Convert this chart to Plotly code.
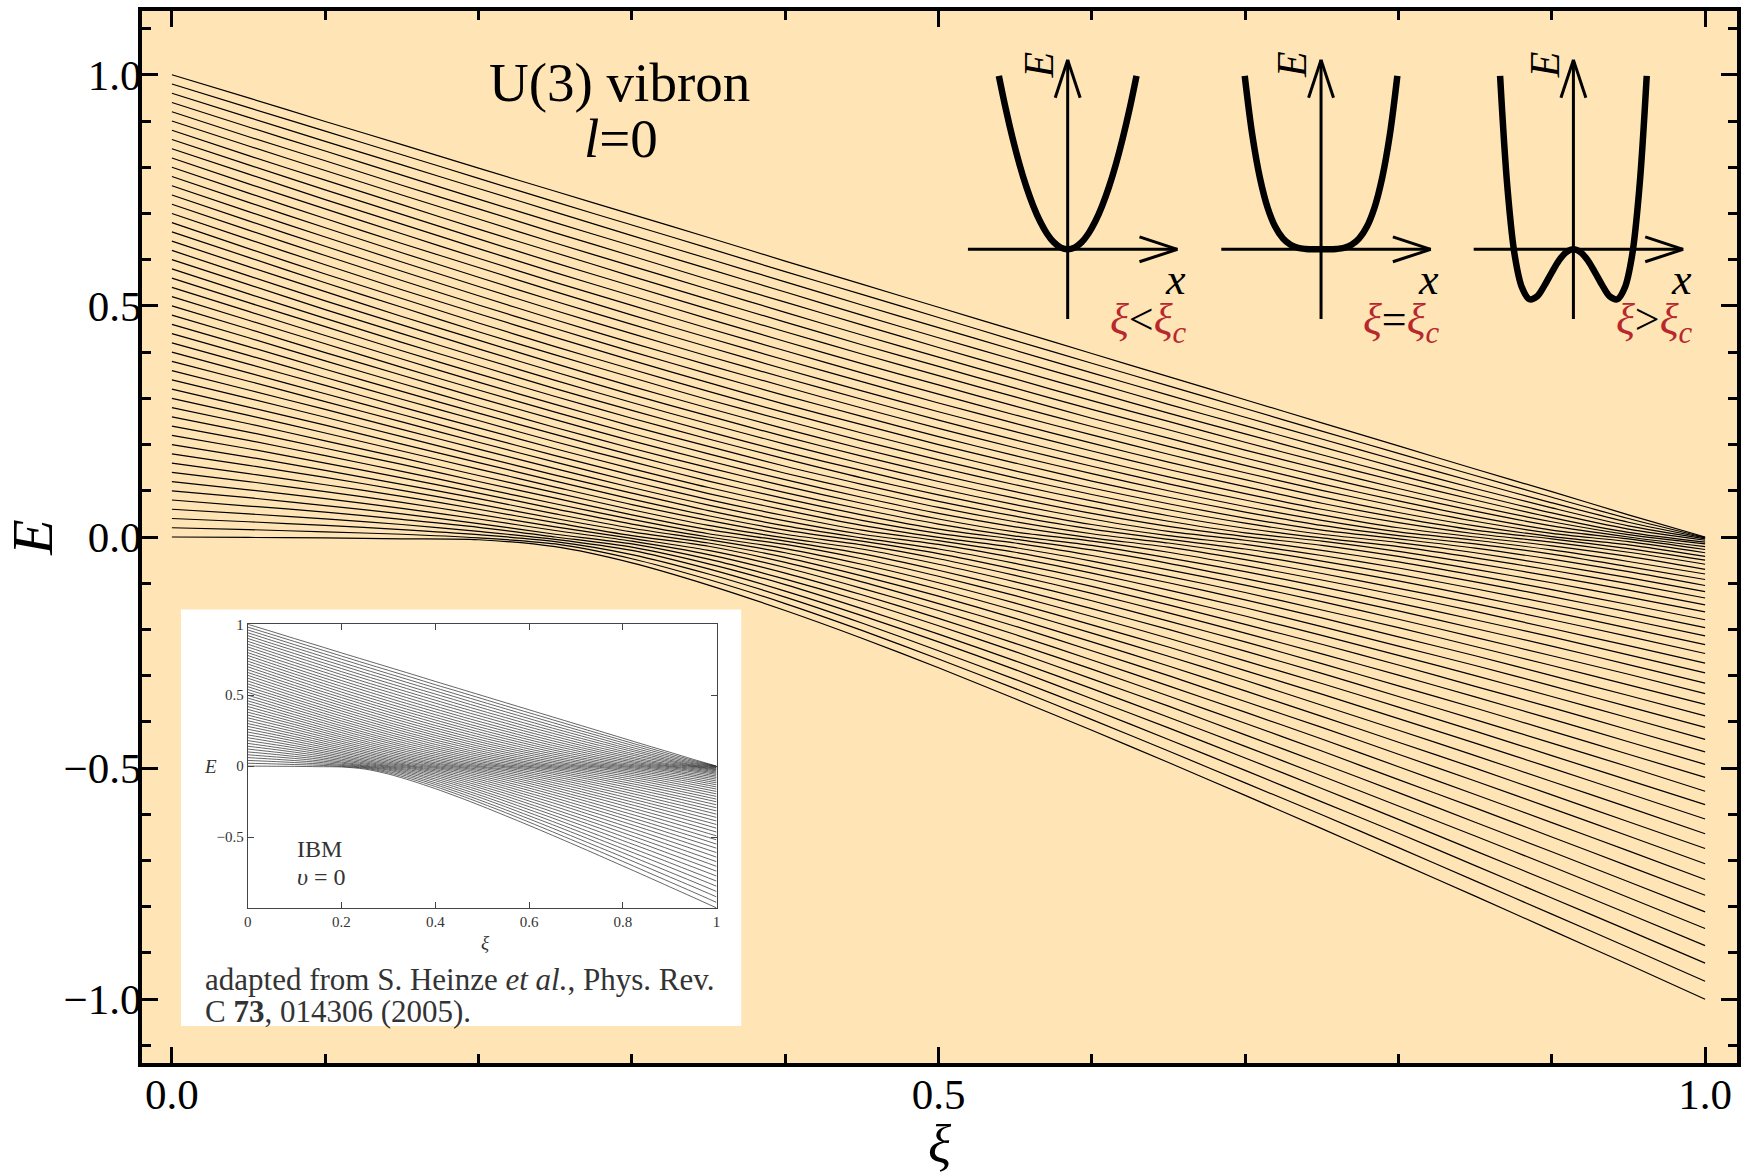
import plotly.graph_objects as go

# ---------------- data: energy levels E(xi), l=0 ----------------
xi_grid = [0.00, 0.05, 0.10, 0.15, 0.20, 0.25, 0.30, 0.35, 0.40, 0.45, 0.50,
           0.55, 0.60, 0.65, 0.70, 0.75, 0.80, 0.85, 0.90, 0.95, 1.00]

E_00 = [0.000, -0.001, -0.002, -0.004, -0.006, -0.021, -0.056, -0.104, -0.159, -0.219, -0.283, -0.350, -0.418, -0.488, -0.559, -0.631, -0.704, -0.777, -0.851, -0.925, -1.000]
E_01 = [0.020, 0.016, 0.011, 0.006, -0.002, -0.015, -0.047, -0.092, -0.144, -0.202, -0.264, -0.328, -0.395, -0.463, -0.532, -0.601, -0.672, -0.744, -0.816, -0.888, -0.961]
E_02 = [0.040, 0.033, 0.025, 0.016, 0.005, -0.010, -0.038, -0.080, -0.130, -0.186, -0.246, -0.308, -0.372, -0.438, -0.505, -0.573, -0.641, -0.711, -0.781, -0.851, -0.922]
E_03 = [0.060, 0.050, 0.039, 0.027, 0.012, -0.005, -0.029, -0.069, -0.117, -0.170, -0.227, -0.287, -0.350, -0.413, -0.478, -0.544, -0.611, -0.679, -0.747, -0.815, -0.884]
E_04 = [0.080, 0.067, 0.054, 0.038, 0.021, 0.000, -0.022, -0.058, -0.103, -0.155, -0.210, -0.268, -0.328, -0.390, -0.453, -0.517, -0.582, -0.647, -0.713, -0.780, -0.847]
E_05 = [0.100, 0.085, 0.068, 0.050, 0.029, 0.006, -0.015, -0.048, -0.091, -0.139, -0.192, -0.248, -0.307, -0.366, -0.428, -0.490, -0.553, -0.617, -0.681, -0.746, -0.811]
E_06 = [0.120, 0.102, 0.083, 0.062, 0.039, 0.014, -0.009, -0.038, -0.078, -0.125, -0.176, -0.230, -0.286, -0.344, -0.403, -0.463, -0.525, -0.586, -0.649, -0.712, -0.775]
E_07 = [0.140, 0.120, 0.098, 0.075, 0.049, 0.022, -0.003, -0.029, -0.066, -0.111, -0.159, -0.211, -0.266, -0.322, -0.379, -0.437, -0.497, -0.557, -0.618, -0.679, -0.741]
E_08 = [0.160, 0.137, 0.113, 0.088, 0.060, 0.031, 0.003, -0.020, -0.055, -0.097, -0.144, -0.193, -0.246, -0.300, -0.356, -0.412, -0.470, -0.528, -0.587, -0.647, -0.707]
E_09 = [0.180, 0.155, 0.129, 0.101, 0.071, 0.040, 0.011, -0.013, -0.044, -0.084, -0.128, -0.176, -0.227, -0.279, -0.333, -0.388, -0.444, -0.500, -0.558, -0.616, -0.674]
E_10 = [0.200, 0.173, 0.144, 0.114, 0.083, 0.050, 0.019, -0.006, -0.034, -0.071, -0.113, -0.159, -0.208, -0.258, -0.310, -0.364, -0.418, -0.473, -0.529, -0.585, -0.642]
E_11 = [0.220, 0.191, 0.160, 0.128, 0.095, 0.061, 0.028, 0.000, -0.025, -0.059, -0.099, -0.143, -0.190, -0.238, -0.289, -0.340, -0.393, -0.446, -0.500, -0.555, -0.610]
E_12 = [0.240, 0.209, 0.176, 0.142, 0.107, 0.072, 0.038, 0.007, -0.016, -0.047, -0.085, -0.127, -0.172, -0.219, -0.268, -0.317, -0.368, -0.420, -0.473, -0.526, -0.579]
E_13 = [0.260, 0.227, 0.192, 0.157, 0.120, 0.084, 0.048, 0.016, -0.009, -0.036, -0.072, -0.112, -0.155, -0.200, -0.247, -0.295, -0.345, -0.395, -0.446, -0.497, -0.550]
E_14 = [0.280, 0.245, 0.208, 0.171, 0.133, 0.096, 0.059, 0.025, -0.002, -0.026, -0.059, -0.097, -0.138, -0.182, -0.227, -0.274, -0.322, -0.370, -0.420, -0.470, -0.520]
E_15 = [0.300, 0.263, 0.225, 0.186, 0.147, 0.108, 0.070, 0.036, 0.006, -0.017, -0.047, -0.083, -0.122, -0.164, -0.208, -0.253, -0.299, -0.346, -0.394, -0.443, -0.492]
E_16 = [0.320, 0.281, 0.242, 0.201, 0.161, 0.121, 0.082, 0.046, 0.015, -0.009, -0.036, -0.070, -0.107, -0.147, -0.189, -0.232, -0.277, -0.323, -0.369, -0.417, -0.465]
E_17 = [0.340, 0.300, 0.259, 0.217, 0.175, 0.134, 0.095, 0.057, 0.024, -0.002, -0.026, -0.057, -0.092, -0.131, -0.171, -0.213, -0.256, -0.300, -0.345, -0.391, -0.438]
E_18 = [0.360, 0.318, 0.276, 0.233, 0.190, 0.148, 0.107, 0.069, 0.035, 0.006, -0.016, -0.045, -0.078, -0.115, -0.153, -0.194, -0.236, -0.278, -0.322, -0.367, -0.412]
E_19 = [0.380, 0.337, 0.293, 0.249, 0.205, 0.162, 0.120, 0.081, 0.046, 0.015, -0.008, -0.033, -0.065, -0.099, -0.136, -0.175, -0.216, -0.257, -0.300, -0.343, -0.387]
E_20 = [0.400, 0.355, 0.310, 0.265, 0.220, 0.176, 0.134, 0.094, 0.058, 0.025, -0.001, -0.023, -0.052, -0.085, -0.120, -0.158, -0.196, -0.237, -0.278, -0.320, -0.362]
E_21 = [0.420, 0.374, 0.328, 0.281, 0.236, 0.191, 0.148, 0.107, 0.070, 0.036, 0.008, -0.013, -0.040, -0.071, -0.104, -0.140, -0.178, -0.217, -0.257, -0.297, -0.339]
E_22 = [0.440, 0.393, 0.345, 0.298, 0.252, 0.206, 0.163, 0.121, 0.083, 0.048, 0.017, -0.005, -0.028, -0.057, -0.090, -0.124, -0.160, -0.198, -0.236, -0.276, -0.316]
E_23 = [0.460, 0.412, 0.363, 0.315, 0.268, 0.222, 0.177, 0.135, 0.096, 0.060, 0.028, 0.002, -0.018, -0.045, -0.075, -0.108, -0.143, -0.179, -0.216, -0.255, -0.294]
E_24 = [0.480, 0.431, 0.381, 0.332, 0.284, 0.237, 0.192, 0.150, 0.110, 0.073, 0.039, 0.011, -0.009, -0.033, -0.062, -0.093, -0.126, -0.161, -0.198, -0.235, -0.273]
E_25 = [0.500, 0.450, 0.399, 0.350, 0.301, 0.254, 0.208, 0.165, 0.124, 0.086, 0.051, 0.022, -0.002, -0.022, -0.049, -0.079, -0.111, -0.144, -0.179, -0.215, -0.252]
E_26 = [0.520, 0.469, 0.418, 0.367, 0.318, 0.270, 0.224, 0.180, 0.138, 0.100, 0.064, 0.033, 0.007, -0.013, -0.037, -0.065, -0.095, -0.128, -0.162, -0.197, -0.233]
E_27 = [0.540, 0.488, 0.436, 0.385, 0.335, 0.287, 0.240, 0.196, 0.153, 0.114, 0.077, 0.045, 0.017, -0.005, -0.026, -0.052, -0.081, -0.112, -0.145, -0.179, -0.214]
E_28 = [0.560, 0.507, 0.455, 0.403, 0.353, 0.304, 0.257, 0.212, 0.169, 0.128, 0.091, 0.057, 0.027, 0.003, -0.016, -0.040, -0.067, -0.097, -0.129, -0.162, -0.196]
E_29 = [0.580, 0.526, 0.473, 0.421, 0.371, 0.321, 0.274, 0.228, 0.184, 0.144, 0.105, 0.070, 0.039, 0.012, -0.007, -0.029, -0.054, -0.083, -0.114, -0.146, -0.179]
E_30 = [0.600, 0.546, 0.492, 0.440, 0.389, 0.339, 0.291, 0.245, 0.201, 0.159, 0.120, 0.084, 0.051, 0.023, 0.001, -0.018, -0.042, -0.070, -0.099, -0.130, -0.162]
E_31 = [0.620, 0.565, 0.511, 0.459, 0.407, 0.357, 0.308, 0.262, 0.217, 0.175, 0.135, 0.098, 0.064, 0.034, 0.009, -0.009, -0.031, -0.057, -0.085, -0.115, -0.147]
E_32 = [0.640, 0.585, 0.531, 0.477, 0.426, 0.375, 0.326, 0.279, 0.234, 0.191, 0.151, 0.113, 0.078, 0.046, 0.019, -0.002, -0.021, -0.045, -0.072, -0.101, -0.132]
E_33 = [0.660, 0.605, 0.550, 0.497, 0.444, 0.394, 0.345, 0.297, 0.252, 0.208, 0.167, 0.128, 0.092, 0.059, 0.030, 0.006, -0.012, -0.034, -0.060, -0.088, -0.118]
E_34 = [0.680, 0.624, 0.569, 0.516, 0.463, 0.412, 0.363, 0.315, 0.269, 0.225, 0.183, 0.143, 0.106, 0.072, 0.041, 0.015, -0.004, -0.024, -0.048, -0.075, -0.105]
E_35 = [0.700, 0.644, 0.589, 0.535, 0.483, 0.432, 0.382, 0.334, 0.287, 0.243, 0.200, 0.160, 0.121, 0.086, 0.054, 0.025, 0.003, -0.015, -0.037, -0.064, -0.092]
E_36 = [0.720, 0.664, 0.609, 0.555, 0.502, 0.451, 0.401, 0.353, 0.306, 0.261, 0.217, 0.176, 0.137, 0.100, 0.066, 0.036, 0.011, -0.007, -0.028, -0.053, -0.080]
E_37 = [0.740, 0.684, 0.629, 0.575, 0.522, 0.470, 0.420, 0.372, 0.325, 0.279, 0.235, 0.193, 0.153, 0.115, 0.080, 0.048, 0.020, 0.000, -0.019, -0.042, -0.070]
E_38 = [0.760, 0.704, 0.649, 0.595, 0.542, 0.490, 0.440, 0.391, 0.344, 0.298, 0.253, 0.210, 0.169, 0.130, 0.094, 0.060, 0.031, 0.007, -0.011, -0.033, -0.059]
E_39 = [0.780, 0.724, 0.669, 0.615, 0.562, 0.510, 0.460, 0.411, 0.363, 0.316, 0.271, 0.228, 0.186, 0.146, 0.109, 0.073, 0.042, 0.015, -0.004, -0.025, -0.050]
E_40 = [0.800, 0.744, 0.689, 0.635, 0.583, 0.531, 0.480, 0.431, 0.383, 0.336, 0.290, 0.246, 0.203, 0.162, 0.124, 0.087, 0.053, 0.024, 0.001, -0.017, -0.042]
E_41 = [0.820, 0.764, 0.710, 0.656, 0.603, 0.551, 0.501, 0.451, 0.403, 0.355, 0.309, 0.264, 0.221, 0.179, 0.139, 0.101, 0.066, 0.034, 0.008, -0.010, -0.034]
E_42 = [0.840, 0.785, 0.730, 0.677, 0.624, 0.572, 0.522, 0.472, 0.423, 0.375, 0.329, 0.283, 0.239, 0.196, 0.155, 0.115, 0.078, 0.044, 0.015, -0.004, -0.027]
E_43 = [0.860, 0.805, 0.751, 0.698, 0.645, 0.593, 0.543, 0.493, 0.444, 0.396, 0.349, 0.303, 0.257, 0.214, 0.171, 0.130, 0.092, 0.056, 0.024, 0.000, -0.021]
E_44 = [0.880, 0.825, 0.772, 0.719, 0.666, 0.615, 0.564, 0.514, 0.465, 0.416, 0.369, 0.322, 0.276, 0.232, 0.188, 0.146, 0.105, 0.067, 0.033, 0.005, -0.015]
E_45 = [0.900, 0.846, 0.793, 0.740, 0.688, 0.636, 0.586, 0.536, 0.486, 0.437, 0.389, 0.342, 0.295, 0.250, 0.205, 0.162, 0.120, 0.080, 0.042, 0.010, -0.011]
E_46 = [0.920, 0.866, 0.814, 0.761, 0.710, 0.658, 0.608, 0.557, 0.508, 0.459, 0.410, 0.362, 0.315, 0.268, 0.223, 0.178, 0.134, 0.092, 0.052, 0.017, -0.007]
E_47 = [0.940, 0.887, 0.835, 0.783, 0.731, 0.680, 0.630, 0.580, 0.530, 0.480, 0.431, 0.383, 0.335, 0.287, 0.241, 0.195, 0.149, 0.105, 0.063, 0.024, -0.004]
E_48 = [0.960, 0.908, 0.856, 0.805, 0.754, 0.703, 0.652, 0.602, 0.552, 0.502, 0.453, 0.404, 0.355, 0.307, 0.259, 0.212, 0.165, 0.119, 0.074, 0.032, -0.002]
E_49 = [0.980, 0.929, 0.878, 0.827, 0.776, 0.725, 0.675, 0.625, 0.574, 0.525, 0.475, 0.425, 0.376, 0.327, 0.278, 0.229, 0.181, 0.133, 0.086, 0.040, -0.001]
E_50 = [1.000, 0.950, 0.899, 0.849, 0.798, 0.748, 0.698, 0.648, 0.597, 0.547, 0.497, 0.447, 0.397, 0.347, 0.297, 0.247, 0.197, 0.147, 0.098, 0.048, 0.000]

levels = [E_00, E_01, E_02, E_03, E_04, E_05, E_06, E_07, E_08, E_09,
          E_10, E_11, E_12, E_13, E_14, E_15, E_16, E_17, E_18, E_19,
          E_20, E_21, E_22, E_23, E_24, E_25, E_26, E_27, E_28, E_29,
          E_30, E_31, E_32, E_33, E_34, E_35, E_36, E_37, E_38, E_39,
          E_40, E_41, E_42, E_43, E_44, E_45, E_46, E_47, E_48, E_49, E_50]

# schematic potentials V(x) for the three sketches
pot_x = [-1.0, -0.9, -0.8, -0.7, -0.6, -0.5, -0.4, -0.3, -0.2, -0.1, 0.0,
         0.1, 0.2, 0.3, 0.4, 0.5, 0.6, 0.7, 0.8, 0.9, 1.0]
pot_below = [1.0, 0.81, 0.64, 0.49, 0.36, 0.25, 0.16, 0.09, 0.04, 0.01, 0.0,
             0.01, 0.04, 0.09, 0.16, 0.25, 0.36, 0.49, 0.64, 0.81, 1.0]
pot_critical = [1.0, 0.656, 0.410, 0.240, 0.130, 0.063, 0.026, 0.008, 0.002, 0.000, 0.0,
                0.000, 0.002, 0.008, 0.026, 0.063, 0.130, 0.240, 0.410, 0.656, 1.0]
pot_above = [1.0, 0.356, -0.036, -0.222, -0.288, -0.273, -0.212, -0.137, -0.066, -0.017, 0.0,
             -0.017, -0.066, -0.137, -0.212, -0.273, -0.288, -0.222, -0.036, 0.356, 1.0]

# inset (adapted IBM figure) tick labels
inset_xticks = [0, 0.2, 0.4, 0.6, 0.8, 1]
inset_xlabels = ["0", "0.2", "0.4", "0.6", "0.8", "1"]
inset_yticks = [-0.5, 0, 0.5, 1]
inset_ylabels = ["\u22120.5", "0", "0.5", "1"]

# ---------------- geometry helpers (pixel -> paper) ----------------
W, H = 1744, 1175
PL, PR, PT, PB = 142.0, 1741.0, 8.0, 1063.0
PW, PH = PR - PL, PB - PT


def fx(X):
    return (X - PL) / PW


def fy(Y):
    return (PB - Y) / PH


SERIF = "Liberation Serif, Times New Roman, serif"
RED = "#B7282E"
BG = "#FFE4B5"


def note(X, Y, text, size, color="black", **kw):
    d = dict(x=fx(X), y=fy(Y), xref="paper", yref="paper", text=text, showarrow=False,
             xanchor="center", yanchor="middle",
             font=dict(family=SERIF, size=size, color=color))
    d.update(kw)
    return d


fig = go.Figure()

# main level lines
for lv in levels:
    fig.add_trace(go.Scatter(x=xi_grid, y=lv, mode="lines",
                             line=dict(color="black", width=1.2, shape="spline", smoothing=0.8),
                             hoverinfo="skip", showlegend=False))

# white background box of the inset (own subplot, drawn above main lines)
fig.add_trace(go.Scatter(x=[0, 1, 1, 0, 0], y=[0, 0, 1, 1, 0], mode="lines", fill="toself",
                         fillcolor="white", line=dict(width=0, color="white"),
                         xaxis="x2", yaxis="y2", hoverinfo="skip", showlegend=False))

# inset spectrum
for lv in levels:
    fig.add_trace(go.Scatter(x=xi_grid, y=lv, mode="lines",
                             line=dict(color="#222222", width=0.7, shape="spline", smoothing=0.8),
                             xaxis="x3", yaxis="y3", hoverinfo="skip", showlegend=False))

# potential sketches
panels = [
    (1070.0, 69.0, pot_below, "&lt;"),
    (1324.0, 76.5, pot_critical, "="),
    (1577.0, 73.5, pot_above, "&gt;"),
]
OY, SY = 247.0, 174.0
XR, YR = [-1.5, 1.5], [-0.5, 1.1]
layout_axes = {}
shapes = [dict(type="rect", xref="paper", yref="paper", x0=0, x1=1, y0=0, y1=1,
               fillcolor=BG, line=dict(width=0), layer="below")]
annotations = []
for i, (ox, sx, pot, op) in enumerate(panels):
    n = 4 + i
    layout_axes[f"xaxis{n}"] = dict(domain=[fx(ox + XR[0] * sx), fx(ox + XR[1] * sx)], range=XR,
                                    visible=False, anchor=f"y{n}", fixedrange=True)
    layout_axes[f"yaxis{n}"] = dict(domain=[fy(OY - YR[0] * SY), fy(OY - YR[1] * SY)], range=YR,
                                    visible=False, anchor=f"x{n}", fixedrange=True)
    fig.add_trace(go.Scatter(x=pot_x, y=pot, mode="lines",
                             line=dict(color="black", width=6.5, shape="spline"),
                             xaxis=f"x{n}", yaxis=f"y{n}", hoverinfo="skip", showlegend=False))
    # axes with open arrow heads (decoration, in paper coords)
    segs = [
        ((ox - 100, OY), (ox + 110, OY)),
        ((ox + 110, OY), (ox + 72, OY - 12.5)),
        ((ox + 110, OY), (ox + 72, OY + 12.5)),
        ((ox, 317), (ox, 57)),
        ((ox, 57), (ox - 12.5, 95)),
        ((ox, 57), (ox + 12.5, 95)),
    ]
    for (a, b) in segs:
        shapes.append(dict(type="line", xref="paper", yref="paper",
                           x0=fx(a[0]), y0=fy(a[1]), x1=fx(b[0]), y1=fy(b[1]),
                           line=dict(color="black", width=3), layer="above"))
    annotations.append(note(ox - 29, 62, "<i>E</i>", 42, textangle=-90))
    annotations.append(note(ox + 108, 277, "<i>x</i>", 44))
    annotations.append(note(ox + 81, 320,
                            (f"<span style='color:{RED}'><i>ξ</i></span>{op}"
                             f"<span style='color:{RED}'><i>ξ</i><sub><i>c</i></sub></span>"), 44))

# title text
annotations.append(note(621, 80, "U(3) vibron", 55))
annotations.append(note(622, 136, "<i>l</i>=0", 55))

# inset texts
annotations += [
    note(320, 848, "IBM", 24, "#333333"),
    note(322, 876, "<i>υ</i> = 0", 24, "#333333"),
    note(211, 766, "<i>E</i>", 19, "#333333"),
    note(486, 942, "<i>ξ</i>", 19, "#333333"),
    note(203, 979, "adapted from S. Heinze <i>et al.</i>, Phys. Rev.", 31, "#333333", xanchor="left"),
    note(203, 1011, "C <b>73</b>, 014306 (2005).", 31, "#333333", xanchor="left"),
]

main_axis = dict(showline=True, linewidth=4, linecolor="black", mirror="allticks",
                 ticks="inside", ticklen=16, tickwidth=3, tickcolor="black",
                 tick0=0, dtick=0.5, tickformat=".1f",
                 minor=dict(ticks="inside", ticklen=9, tickwidth=2.5, tickcolor="black",
                            tick0=0, dtick=0.1, showgrid=False),
                 showgrid=False, zeroline=False,
                 tickfont=dict(family=SERIF, size=43, color="black"), fixedrange=True)

inset_axis = dict(showline=True, linewidth=1, linecolor="#444444", mirror="allticks",
                  ticks="inside", ticklen=6, tickwidth=1, tickcolor="#444444",
                  showgrid=False, zeroline=False,
                  tickfont=dict(family=SERIF, size=15, color="#333333"), fixedrange=True)

fig.update_layout(
    width=W, height=H,
    margin=dict(l=PL, r=W - PR, t=PT, b=H - PB),
    paper_bgcolor="white", plot_bgcolor="rgba(0,0,0,0)",
    font=dict(family=SERIF, color="black"),
    showlegend=False,
    xaxis=dict(main_axis, range=[-0.0195, 1.0208], ticklabelstandoff=-10,
               title=dict(text="<i>ξ</i>", font=dict(family=SERIF, size=54), standoff=10)),
    yaxis=dict(main_axis, range=[-1.138, 1.138], ticklabelstandoff=-12,
               title=dict(text="<i>E</i>", font=dict(family=SERIF, size=58), standoff=6)),
    xaxis2=dict(domain=[fx(181), fx(743)], range=[0, 1], visible=False, anchor="y2", fixedrange=True),
    yaxis2=dict(domain=[fy(1026), fy(608)], range=[0, 1], visible=False, anchor="x2", fixedrange=True),
    xaxis3=dict(inset_axis, domain=[fx(248), fx(718)], range=[0, 1], anchor="y3",
                tickvals=inset_xticks, ticktext=inset_xlabels),
    yaxis3=dict(inset_axis, domain=[fy(907.5), fy(623)], range=[-1, 1], anchor="x3",
                tickvals=inset_yticks, ticktext=inset_ylabels),
    shapes=shapes,
    annotations=annotations,
    **layout_axes,
)

fig.write_html("out.html")
